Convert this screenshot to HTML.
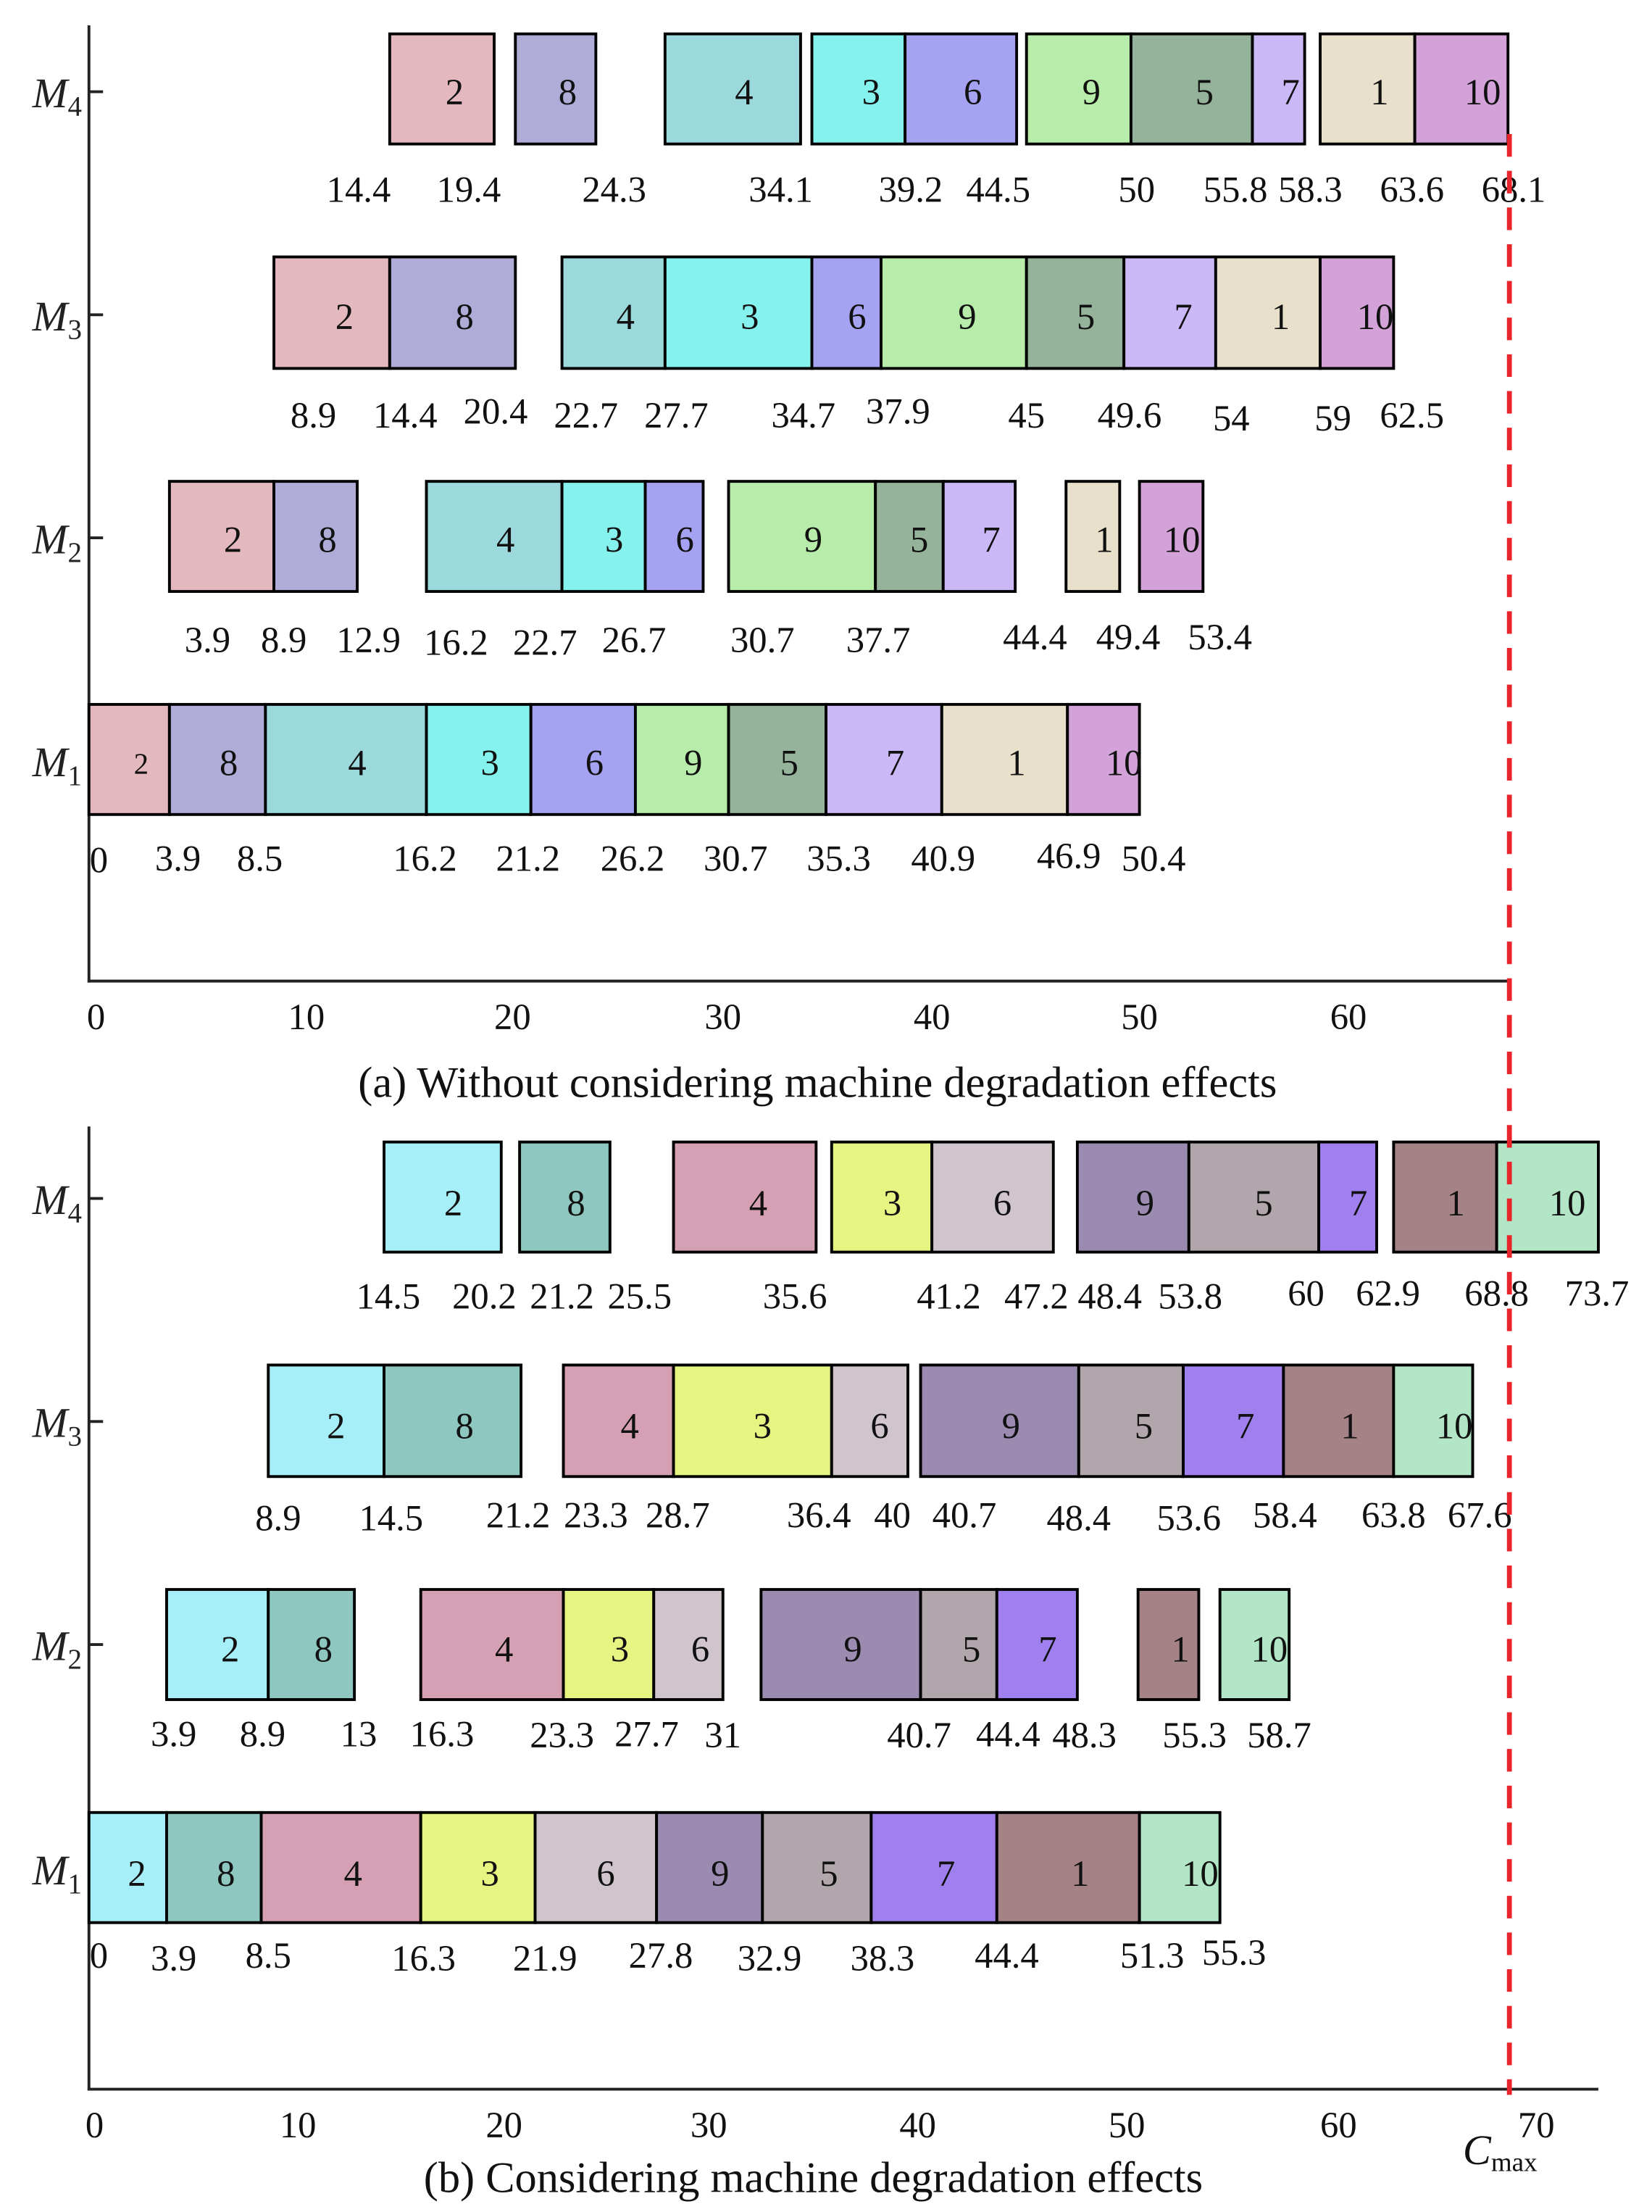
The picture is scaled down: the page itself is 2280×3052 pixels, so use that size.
<!DOCTYPE html>
<html><head><meta charset="utf-8"><style>html,body{margin:0;padding:0;background:#fff}svg{display:block}</style></head>
<body>
<svg width="2280" height="3052" viewBox="0 0 1170 1567" preserveAspectRatio="none" xmlns="http://www.w3.org/2000/svg" font-family="Liberation Serif, serif" font-size="26">
<g stroke="#222" stroke-width="2" fill="none">
<line x1="63" y1="18" x2="63" y2="696"/><line x1="62" y1="695" x2="1070" y2="695"/>
<line x1="63" y1="65" x2="73" y2="65"/><line x1="63" y1="223" x2="73" y2="223"/><line x1="63" y1="381" x2="73" y2="381"/><line x1="63" y1="539" x2="73" y2="539"/>
<line x1="63" y1="798" x2="63" y2="1481"/><line x1="62" y1="1480" x2="1132" y2="1480"/>
<line x1="63" y1="849" x2="73" y2="849"/><line x1="63" y1="1007" x2="73" y2="1007"/><line x1="63" y1="1165" x2="73" y2="1165"/><line x1="63" y1="1324" x2="73" y2="1324"/>
</g>
<g font-style="italic" font-size="30" fill="#222">
<text x="23" y="76">M<tspan font-size="20" font-style="normal" dy="6">4</tspan></text>
<text x="23" y="234">M<tspan font-size="20" font-style="normal" dy="6">3</tspan></text>
<text x="23" y="392">M<tspan font-size="20" font-style="normal" dy="6">2</tspan></text>
<text x="23" y="550">M<tspan font-size="20" font-style="normal" dy="6">1</tspan></text>
<text x="23" y="860">M<tspan font-size="20" font-style="normal" dy="6">4</tspan></text>
<text x="23" y="1018">M<tspan font-size="20" font-style="normal" dy="6">3</tspan></text>
<text x="23" y="1176">M<tspan font-size="20" font-style="normal" dy="6">2</tspan></text>
<text x="23" y="1335">M<tspan font-size="20" font-style="normal" dy="6">1</tspan></text>
</g>
<g stroke="#000" stroke-width="2">
<rect x="276" y="24" width="74" height="78" fill="#e3b9bf"/><rect x="365" y="24" width="57" height="78" fill="#b0acd8"/><rect x="471" y="24" width="96" height="78" fill="#9cd9dc"/><rect x="575" y="24" width="66" height="78" fill="#86f2ee"/><rect x="641" y="24" width="79" height="78" fill="#a5a2f2"/><rect x="727" y="24" width="74" height="78" fill="#b8ecaa"/><rect x="801" y="24" width="86" height="78" fill="#94b39a"/><rect x="887" y="24" width="37" height="78" fill="#cbb8f7"/><rect x="935" y="24" width="67" height="78" fill="#e8e0cb"/><rect x="1002" y="24" width="66" height="78" fill="#d3a2d8"/>
<rect x="194" y="182" width="82" height="79" fill="#e3b9bf"/><rect x="276" y="182" width="89" height="79" fill="#b0acd8"/><rect x="398" y="182" width="73" height="79" fill="#9cd9dc"/><rect x="471" y="182" width="104" height="79" fill="#86f2ee"/><rect x="575" y="182" width="49" height="79" fill="#a5a2f2"/><rect x="624" y="182" width="103" height="79" fill="#b8ecaa"/><rect x="727" y="182" width="69" height="79" fill="#94b39a"/><rect x="796" y="182" width="65" height="79" fill="#cbb8f7"/><rect x="861" y="182" width="74" height="79" fill="#e8e0cb"/><rect x="935" y="182" width="52" height="79" fill="#d3a2d8"/>
<rect x="120" y="341" width="74" height="78" fill="#e3b9bf"/><rect x="194" y="341" width="59" height="78" fill="#b0acd8"/><rect x="302" y="341" width="96" height="78" fill="#9cd9dc"/><rect x="398" y="341" width="59" height="78" fill="#86f2ee"/><rect x="457" y="341" width="41" height="78" fill="#a5a2f2"/><rect x="516" y="341" width="104" height="78" fill="#b8ecaa"/><rect x="620" y="341" width="48" height="78" fill="#94b39a"/><rect x="668" y="341" width="51" height="78" fill="#cbb8f7"/><rect x="755" y="341" width="38" height="78" fill="#e8e0cb"/><rect x="807" y="341" width="45" height="78" fill="#d3a2d8"/>
<rect x="63" y="499" width="57" height="78" fill="#e3b9bf"/><rect x="120" y="499" width="68" height="78" fill="#b0acd8"/><rect x="188" y="499" width="114" height="78" fill="#9cd9dc"/><rect x="302" y="499" width="74" height="78" fill="#86f2ee"/><rect x="376" y="499" width="74" height="78" fill="#a5a2f2"/><rect x="450" y="499" width="66" height="78" fill="#b8ecaa"/><rect x="516" y="499" width="69" height="78" fill="#94b39a"/><rect x="585" y="499" width="82" height="78" fill="#cbb8f7"/><rect x="667" y="499" width="89" height="78" fill="#e8e0cb"/><rect x="756" y="499" width="51" height="78" fill="#d3a2d8"/>
<rect x="272" y="809" width="83" height="78" fill="#a6eef8"/><rect x="368" y="809" width="64" height="78" fill="#8ec6c0"/><rect x="477" y="809" width="101" height="78" fill="#d59fb4"/><rect x="589" y="809" width="71" height="78" fill="#e6f581"/><rect x="660" y="809" width="86" height="78" fill="#d0c5cc"/><rect x="763" y="809" width="79" height="78" fill="#9b8bb0"/><rect x="842" y="809" width="92" height="78" fill="#b1a6ab"/><rect x="934" y="809" width="41" height="78" fill="#9f80ee"/><rect x="987" y="809" width="73" height="78" fill="#a58286"/><rect x="1060" y="809" width="72" height="78" fill="#b3e6c7"/>
<rect x="190" y="967" width="82" height="79" fill="#a6eef8"/><rect x="272" y="967" width="97" height="79" fill="#8ec6c0"/><rect x="399" y="967" width="78" height="79" fill="#d59fb4"/><rect x="477" y="967" width="112" height="79" fill="#e6f581"/><rect x="589" y="967" width="54" height="79" fill="#d0c5cc"/><rect x="652" y="967" width="112" height="79" fill="#9b8bb0"/><rect x="764" y="967" width="74" height="79" fill="#b1a6ab"/><rect x="838" y="967" width="71" height="79" fill="#9f80ee"/><rect x="909" y="967" width="78" height="79" fill="#a58286"/><rect x="987" y="967" width="56" height="79" fill="#b3e6c7"/>
<rect x="118" y="1126" width="72" height="78" fill="#a6eef8"/><rect x="190" y="1126" width="61" height="78" fill="#8ec6c0"/><rect x="298" y="1126" width="101" height="78" fill="#d59fb4"/><rect x="399" y="1126" width="64" height="78" fill="#e6f581"/><rect x="463" y="1126" width="49" height="78" fill="#d0c5cc"/><rect x="539" y="1126" width="113" height="78" fill="#9b8bb0"/><rect x="652" y="1126" width="54" height="78" fill="#b1a6ab"/><rect x="706" y="1126" width="57" height="78" fill="#9f80ee"/><rect x="806" y="1126" width="43" height="78" fill="#a58286"/><rect x="864" y="1126" width="49" height="78" fill="#b3e6c7"/>
<rect x="63" y="1284" width="55" height="78" fill="#a6eef8"/><rect x="118" y="1284" width="67" height="78" fill="#8ec6c0"/><rect x="185" y="1284" width="113" height="78" fill="#d59fb4"/><rect x="298" y="1284" width="81" height="78" fill="#e6f581"/><rect x="379" y="1284" width="86" height="78" fill="#d0c5cc"/><rect x="465" y="1284" width="75" height="78" fill="#9b8bb0"/><rect x="540" y="1284" width="77" height="78" fill="#b1a6ab"/><rect x="617" y="1284" width="89" height="78" fill="#9f80ee"/><rect x="706" y="1284" width="101" height="78" fill="#a58286"/><rect x="807" y="1284" width="57" height="78" fill="#b3e6c7"/>
</g>
<g text-anchor="middle" fill="#111">
<text x="322" y="74">2</text><text x="402" y="74">8</text><text x="527" y="74">4</text><text x="617" y="74">3</text><text x="689" y="74">6</text><text x="773" y="74">9</text><text x="853" y="74">5</text><text x="914" y="74">7</text><text x="977" y="74">1</text><text x="1050" y="74">10</text>
<text x="244" y="233">2</text><text x="329" y="233">8</text><text x="443" y="233">4</text><text x="531" y="233">3</text><text x="607" y="233">6</text><text x="685" y="233">9</text><text x="769" y="233">5</text><text x="838" y="233">7</text><text x="907" y="233">1</text><text x="974" y="233">10</text>
<text x="165" y="391">2</text><text x="232" y="391">8</text><text x="358" y="391">4</text><text x="435" y="391">3</text><text x="485" y="391">6</text><text x="576" y="391">9</text><text x="651" y="391">5</text><text x="702" y="391">7</text><text x="782" y="391">1</text><text x="837" y="391">10</text>
<text x="100" y="548" font-size="21">2</text><text x="162" y="549">8</text><text x="253" y="549">4</text><text x="347" y="549">3</text><text x="421" y="549">6</text><text x="491" y="549">9</text><text x="559" y="549">5</text><text x="634" y="549">7</text><text x="720" y="549">1</text><text x="796" y="549">10</text>
<text x="321" y="861">2</text><text x="408" y="861">8</text><text x="537" y="861">4</text><text x="632" y="861">3</text><text x="710" y="861">6</text><text x="811" y="861">9</text><text x="895" y="861">5</text><text x="962" y="861">7</text><text x="1031" y="861">1</text><text x="1110" y="861">10</text>
<text x="238" y="1019">2</text><text x="329" y="1019">8</text><text x="446" y="1019">4</text><text x="540" y="1019">3</text><text x="623" y="1019">6</text><text x="716" y="1019">9</text><text x="810" y="1019">5</text><text x="882" y="1019">7</text><text x="956" y="1019">1</text><text x="1030" y="1019">10</text>
<text x="163" y="1177">2</text><text x="229" y="1177">8</text><text x="357" y="1177">4</text><text x="439" y="1177">3</text><text x="496" y="1177">6</text><text x="604" y="1177">9</text><text x="688" y="1177">5</text><text x="742" y="1177">7</text><text x="836" y="1177">1</text><text x="899" y="1177">10</text>
<text x="97" y="1336">2</text><text x="160" y="1336">8</text><text x="250" y="1336">4</text><text x="347" y="1336">3</text><text x="429" y="1336">6</text><text x="510" y="1336">9</text><text x="587" y="1336">5</text><text x="670" y="1336">7</text><text x="765" y="1336">1</text><text x="850" y="1336">10</text>
<text x="254" y="143">14.4</text><text x="332" y="143">19.4</text><text x="435" y="143">24.3</text><text x="553" y="143">34.1</text><text x="645" y="143">39.2</text><text x="707" y="143">44.5</text><text x="805" y="143">50</text><text x="875" y="143">55.8</text><text x="928" y="143">58.3</text><text x="1000" y="143">63.6</text><text x="1072" y="143">68.1</text>
<text x="222" y="303">8.9</text><text x="287" y="303">14.4</text><text x="351" y="300">20.4</text><text x="415" y="303">22.7</text><text x="479" y="303">27.7</text><text x="569" y="303">34.7</text><text x="636" y="300">37.9</text><text x="727" y="303">45</text><text x="800" y="303">49.6</text><text x="872" y="305">54</text><text x="944" y="305">59</text><text x="1000" y="303">62.5</text>
<text x="147" y="462">3.9</text><text x="201" y="462">8.9</text><text x="261" y="462">12.9</text><text x="323" y="464">16.2</text><text x="386" y="464">22.7</text><text x="449" y="462">26.7</text><text x="540" y="462">30.7</text><text x="622" y="462">37.7</text><text x="733" y="460">44.4</text><text x="799" y="460">49.4</text><text x="864" y="460">53.4</text>
<text x="70" y="618">0</text><text x="126" y="617">3.9</text><text x="184" y="617">8.5</text><text x="301" y="617">16.2</text><text x="374" y="617">21.2</text><text x="448" y="617">26.2</text><text x="521" y="617">30.7</text><text x="594" y="617">35.3</text><text x="668" y="617">40.9</text><text x="757" y="615">46.9</text><text x="817" y="617">50.4</text>
<text x="275" y="927">14.5</text><text x="343" y="927">20.2</text><text x="398" y="927">21.2</text><text x="453" y="927">25.5</text><text x="563" y="927">35.6</text><text x="672" y="927">41.2</text><text x="734" y="927">47.2</text><text x="786" y="927">48.4</text><text x="843" y="927">53.8</text><text x="925" y="925">60</text><text x="983" y="925">62.9</text><text x="1060" y="925">68.8</text><text x="1131" y="925">73.7</text>
<text x="197" y="1084">8.9</text><text x="277" y="1084">14.5</text><text x="367" y="1082">21.2</text><text x="422" y="1082">23.3</text><text x="480" y="1082">28.7</text><text x="580" y="1082">36.4</text><text x="632" y="1082">40</text><text x="683" y="1082">40.7</text><text x="764" y="1084">48.4</text><text x="842" y="1084">53.6</text><text x="910" y="1082">58.4</text><text x="987" y="1082">63.8</text><text x="1048" y="1082">67.6</text>
<text x="123" y="1237">3.9</text><text x="186" y="1237">8.9</text><text x="254" y="1237">13</text><text x="313" y="1237">16.3</text><text x="398" y="1238">23.3</text><text x="458" y="1237">27.7</text><text x="512" y="1238">31</text><text x="651" y="1238">40.7</text><text x="714" y="1237">44.4</text><text x="768" y="1238">48.3</text><text x="846" y="1238">55.3</text><text x="906" y="1238">58.7</text>
<text x="70" y="1394">0</text><text x="123" y="1396">3.9</text><text x="190" y="1394">8.5</text><text x="300" y="1396">16.3</text><text x="386" y="1396">21.9</text><text x="468" y="1394">27.8</text><text x="545" y="1396">32.9</text><text x="625" y="1396">38.3</text><text x="713" y="1394">44.4</text><text x="816" y="1394">51.3</text><text x="874" y="1392">55.3</text>
<text x="68" y="729">0</text><text x="217" y="729">10</text><text x="363" y="729">20</text><text x="512" y="729">30</text><text x="660" y="729">40</text><text x="807" y="729">50</text><text x="955" y="729">60</text>
<text x="67" y="1514">0</text><text x="211" y="1514">10</text><text x="357" y="1514">20</text><text x="502" y="1514">30</text><text x="650" y="1514">40</text><text x="798" y="1514">50</text><text x="948" y="1514">60</text><text x="1088" y="1514">70</text>
<text x="579" y="777" font-size="31">(a) Without considering machine degradation effects</text>
<text x="576" y="1553" font-size="31">(b) Considering machine degradation effects</text>
</g>
<text x="1036" y="1533" font-size="30" font-style="italic" fill="#111">C<tspan font-size="19" font-style="normal" dy="5">max</tspan></text>
<line x1="1069" y1="95" x2="1069" y2="1484" stroke="#e8252a" stroke-width="3.5" stroke-dasharray="16 10"/>
</svg>
</body></html>
